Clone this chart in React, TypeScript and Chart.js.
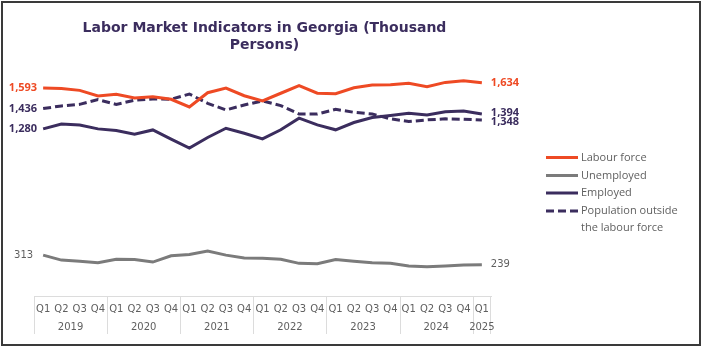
import React, { useEffect, useRef } from 'react';
import { Chart, registerables } from 'chart.js';

Chart.register(...registerables);

// ---- data ----
const quarterLabels = [
  'Q1', 'Q2', 'Q3', 'Q4',
  'Q1', 'Q2', 'Q3', 'Q4',
  'Q1', 'Q2', 'Q3', 'Q4',
  'Q1', 'Q2', 'Q3', 'Q4',
  'Q1', 'Q2', 'Q3', 'Q4',
  'Q1', 'Q2', 'Q3', 'Q4',
  'Q1',
];
const yearLabels = ['2019', '2020', '2021', '2022', '2023', '2024', '2025'];
const quartersPerYear = [4, 4, 4, 4, 4, 4, 1];

const labourForce = [1593, 1590, 1575, 1532, 1545, 1517, 1527, 1507, 1448, 1557, 1593, 1534, 1494, 1553, 1611, 1553, 1550, 1595, 1616, 1618, 1629, 1603, 1636, 1649, 1634];
const unemployed = [313, 275, 267, 255, 282, 280, 260, 308, 318, 344, 313, 292, 290, 282, 250, 247, 280, 267, 254, 250, 229, 224, 229, 237, 239];
const employed = [1280, 1318, 1310, 1280, 1267, 1240, 1272, 1202, 1133, 1214, 1285, 1247, 1204, 1273, 1362, 1311, 1273, 1329, 1367, 1383, 1400, 1387, 1412, 1417, 1394];
const outsideLabourForce = [1436, 1456, 1468, 1504, 1468, 1499, 1509, 1507, 1547, 1476, 1425, 1463, 1494, 1458, 1394, 1394, 1430, 1407, 1394, 1357, 1336, 1349, 1357, 1354, 1348];

const seriesNames = ['Labour force', 'Unemployed', 'Employed', 'Population outside the labour force'];
const legendLines = [['Labour force'], ['Unemployed'], ['Employed'], ['Population outside', 'the labour force']];
const titleLines = ['Labor Market Indicators in Georgia (Thousand', 'Persons)'];

// ---- styles ----
const ORANGE = '#ee4a24';
const GRAY = '#7b7b7b';
const PURPLE = '#3b2d5e';
const TEXT_GRAY = '#5f5f5f';
const AXIS_GRAY = '#dcdcdc';

const seriesStyle = [
  { color: ORANGE, labelColor: ORANGE, bold: true, dash: [] as number[], nudge: 0 },
  { color: GRAY, labelColor: TEXT_GRAY, bold: false, dash: [] as number[], nudge: 0 },
  { color: PURPLE, labelColor: PURPLE, bold: true, dash: [] as number[], nudge: -1.5 },
  { color: PURPLE, labelColor: PURPLE, bold: true, dash: [8, 4], nudge: 1.5 },
];

const fmt = (v: number) => v.toLocaleString('en-US');

const overlayPlugin = {
  id: 'overlay',
  afterDraw(chart: any) {
    const { ctx, chartArea, scales } = chart;
    const xs = scales.x;
    ctx.save();

    // title
    ctx.fillStyle = PURPLE;
    ctx.font = 'bold 14px "DejaVu Sans"';
    ctx.textAlign = 'center';
    ctx.textBaseline = 'alphabetic';
    const cx = (chartArea.left + chartArea.right) / 2 + 2;
    titleLines.forEach((t, i) => ctx.fillText(t, cx, 32 + i * 17));

    // year groups
    const half = (xs.getPixelForValue(1) - xs.getPixelForValue(0)) / 2;
    const bottom = chartArea.bottom;
    ctx.strokeStyle = AXIS_GRAY;
    ctx.lineWidth = 1;
    ctx.font = '10px "DejaVu Sans"';
    ctx.fillStyle = TEXT_GRAY;
    ctx.textAlign = 'center';
    ctx.textBaseline = 'middle';
    let start = 0;
    yearLabels.forEach((yr, gi) => {
      const n = quartersPerYear[gi];
      const left = xs.getPixelForValue(start) - half;
      const right = xs.getPixelForValue(start + n - 1) + half;
      const lx = Math.round(left) + 0.5;
      ctx.beginPath();
      ctx.moveTo(lx, bottom);
      ctx.lineTo(lx, bottom + 38);
      ctx.stroke();
      if (gi === yearLabels.length - 1) {
        const rx = Math.round(right) - 0.5;
        ctx.beginPath();
        ctx.moveTo(rx, bottom);
        ctx.lineTo(rx, bottom + 38);
        ctx.stroke();
      }
      ctx.fillText(yr, (left + right) / 2, bottom + 31);
      start += n;
    });

    // end labels
    chart.data.datasets.forEach((ds: any, i: number) => {
      const meta = chart.getDatasetMeta(i);
      const st = seriesStyle[i];
      const first = meta.data[0];
      const last = meta.data[meta.data.length - 1];
      ctx.fillStyle = st.labelColor;
      ctx.font = st.bold ? 'bold 11px "Open Sans"' : '10px "DejaVu Sans"';
      ctx.textBaseline = 'middle';
      ctx.textAlign = 'right';
      ctx.fillText(fmt(ds.data[0]), first.x - (st.bold ? 6 : 10), first.y);
      ctx.textAlign = 'left';
      ctx.fillText(fmt(ds.data[ds.data.length - 1]), last.x + 9, last.y + st.nudge);
    });

    // legend
    const lx0 = 546;
    const lx1 = 578;
    const rows = [157.5, 175.5, 193, 211];
    ctx.font = '11px "Open Sans"';
    ctx.textAlign = 'left';
    ctx.textBaseline = 'middle';
    legendLines.forEach((lines, i) => {
      const st = seriesStyle[i];
      const y = rows[i];
      ctx.strokeStyle = st.color;
      ctx.lineWidth = 3;
      ctx.setLineDash(st.dash);
      ctx.beginPath();
      ctx.moveTo(lx0, y);
      ctx.lineTo(lx1, y);
      ctx.stroke();
      ctx.setLineDash([]);
      ctx.fillStyle = TEXT_GRAY;
      lines.forEach((t, j) => ctx.fillText(t, 581, y + j * 17));
    });

    ctx.restore();
  },
};

export default function App() {
  const ref = useRef<HTMLCanvasElement | null>(null);

  useEffect(() => {
    if (!ref.current) return;
    const seriesData = [labourForce, unemployed, employed, outsideLabourForce];
    const chart = new Chart(ref.current, {
      type: 'line',
      data: {
        labels: quarterLabels,
        datasets: seriesData.map((d, i) => ({
          label: seriesNames[i],
          data: d,
          borderColor: seriesStyle[i].color,
          backgroundColor: seriesStyle[i].color,
          borderWidth: 3,
          borderDash: seriesStyle[i].dash,
          pointRadius: 0,
          tension: 0,
          fill: false,
        })),
      },
      options: {
        responsive: false,
        animation: false,
        devicePixelRatio: 1,
        layout: { padding: { left: 34, right: 211, top: 61, bottom: 0 } },
        plugins: {
          legend: { display: false },
          title: { display: false },
          tooltip: { enabled: false },
        },
        scales: {
          x: {
            type: 'category',
            offset: true,
            grid: { display: false, drawTicks: false },
            border: { display: true, color: AXIS_GRAY, width: 1 },
            ticks: {
              autoSkip: false,
              maxRotation: 0,
              padding: 7,
              color: TEXT_GRAY,
              font: { family: '"DejaVu Sans"', size: 10 },
            },
            afterFit: (s: any) => {
              s.height = 52;
            },
          },
          y: {
            display: false,
            min: 0,
            max: 1800,
          },
        },
      },
      plugins: [overlayPlugin],
    });
    return () => chart.destroy();
  }, []);

  return (
    <div
      style={{
        position: 'absolute',
        left: 0,
        top: 0,
        width: 702,
        height: 348,
        background: '#fff',
        overflow: 'hidden',
      }}
    >
      <canvas ref={ref} width={702} height={348} style={{ display: 'block', position: 'absolute', left: 0, top: 0 }} />
      <div
        style={{
          position: 'absolute',
          left: 1,
          top: 1,
          width: 700,
          height: 345,
          boxSizing: 'border-box',
          border: '2px solid #3a3a3a',
          pointerEvents: 'none',
        }}
      />
    </div>
  );
}
